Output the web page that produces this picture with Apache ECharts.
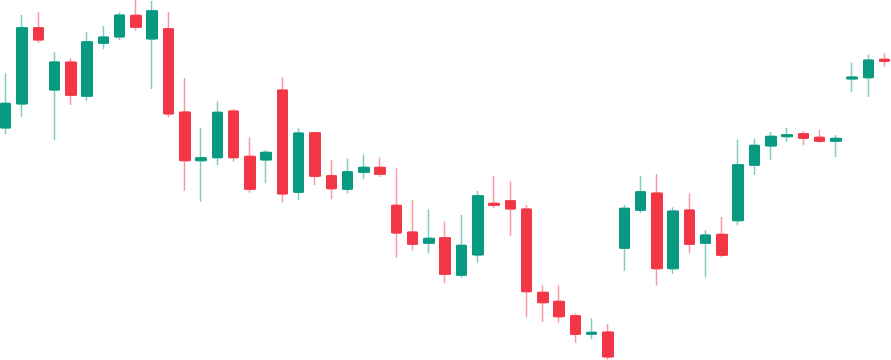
<!DOCTYPE html>
<html>
<head>
<meta charset="utf-8">
<script src="https://cdn.jsdelivr.net/npm/echarts@6/dist/echarts.min.js"></script>
<style>
html,body{margin:0;padding:0;background:#ffffff;}
#chart{width:891px;height:360px;}
</style>
</head>
<body>
<div id="chart"></div>
<script>
// Candle values (arbitrary price units), one entry per session
const categories = Array.from({length: 55}, (_, i) => 'D' + (i + 1));
const opens  = [123.20,125.60,133.23,127.00,129.80,126.37,131.67,132.30,134.47,132.10,
                133.13,124.80,119.93,120.23,124.90,120.37,120.00,127.00,116.77,122.73,
                118.43,117.07,118.77,119.27,115.47,112.80,111.67,112.23,108.47,110.50,
                115.67,115.93,115.10,106.77,105.87,104.43,102.57,102.80,111.17,114.97,
                116.70,109.13,115.00,111.67,112.57,113.93,119.47,121.40,122.33,122.63,
                122.27,121.87,128.10,128.23,130.07];
const closes = [125.67,133.23,132.00,129.80,126.47,131.83,132.30,134.50,133.27,134.93,
                124.60,119.93,120.23,124.77,120.23,117.07,120.77,116.60,122.70,118.37,
                117.13,118.83,119.27,118.57,112.70,111.57,112.17,108.57,111.47,116.43,
                115.47,115.10,106.83,105.73,104.33,102.57,102.77,100.30,115.17,116.83,
                109.13,114.90,111.57,112.50,110.47,119.53,121.47,122.37,122.53,122.17,
                121.87,122.17,128.30,130.00,129.87];
const lows   = [122.57,124.33,131.70,121.97,125.50,125.93,131.07,131.97,132.93,127.10,
                124.27,116.93,115.83,119.50,119.83,116.73,117.67,115.77,116.00,117.50,
                116.07,116.67,118.07,118.30,110.23,110.97,110.67,107.67,108.23,109.73,
                115.23,112.43,104.27,103.80,103.73,101.73,102.07,100.03,108.93,114.67,
                107.43,108.60,110.67,108.27,110.27,113.47,118.50,120.00,121.80,121.47,
                121.73,120.30,126.77,126.30,129.33];
const highs  = [128.67,134.50,134.80,130.77,130.17,132.80,133.40,134.77,136.00,135.90,
                134.80,128.20,123.17,125.87,125.07,122.27,121.00,128.27,123.17,122.80,
                120.00,120.13,120.57,120.23,119.17,116.00,115.07,113.83,114.50,116.90,
                118.40,117.87,115.50,107.47,107.47,104.67,104.17,103.60,115.50,118.40,
                118.60,115.27,116.67,113.00,114.30,122.05,122.13,122.80,123.20,122.87,
                123.00,122.50,129.73,130.53,130.67];

const UP = '#089981', DOWN = '#F23645';
const UP_WICK = '#84ccc0', DOWN_WICK = '#f89aa2';

const fullData = categories.map((_, i) => [opens[i], closes[i], lows[i], highs[i]]);
const bodyData = categories.map((_, i) => {
  const lo = Math.min(opens[i], closes[i]), hi = Math.max(opens[i], closes[i]);
  return [opens[i], closes[i], lo, hi];
});

const chart = echarts.init(document.getElementById('chart'), null, {renderer: 'canvas'});
chart.setOption({
  animation: false,
  backgroundColor: '#ffffff',
  grid: {left: 5.7, right: 6.3, top: 0, bottom: 0, containLabel: false},
  xAxis: {
    type: 'category', data: categories, boundaryGap: false,
    axisLine: {show: false}, axisTick: {show: false}, axisLabel: {show: false}, splitLine: {show: false}
  },
  yAxis: {
    type: 'value', min: 100, max: 136, scale: true,
    axisLine: {show: false}, axisTick: {show: false}, axisLabel: {show: false}, splitLine: {show: false}
  },
  series: [
    {
      name: 'wicks', type: 'candlestick', data: fullData, barWidth: 6, z: 2,
      itemStyle: {color: UP_WICK, color0: DOWN_WICK, borderColor: UP_WICK, borderColor0: DOWN_WICK, borderWidth: 1.5}
    },
    {
      name: 'bodies', type: 'candlestick', data: bodyData, barWidth: 11, z: 3,
      itemStyle: {color: UP, color0: DOWN, borderColor: UP, borderColor0: DOWN, borderWidth: 1}
    }
  ]
});
</script>
</body>
</html>
